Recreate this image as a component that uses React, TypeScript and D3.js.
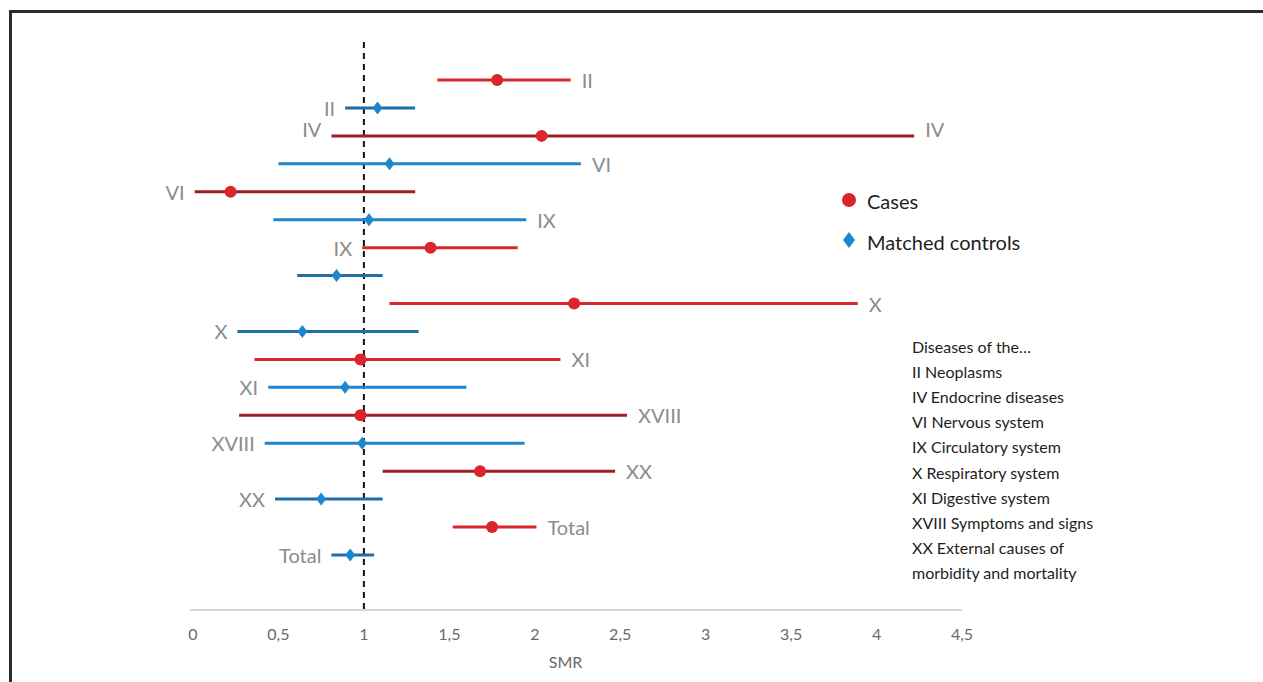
import React, { useEffect, useRef } from "react";
import * as d3 from "d3";

const width = 1263;
const height = 682;

// rows from top to bottom, cases and matched controls interleaved
const rowGroup = ["Cases", "Controls", "Cases", "Controls", "Cases", "Controls", "Cases", "Controls", "Cases",
  "Controls", "Cases", "Controls", "Cases", "Controls", "Cases", "Controls", "Cases", "Controls"];
const rowLabel = ["II", "II", "IV", "VI", "VI", "IX", "IX", "", "X", "X", "XI", "XI", "XVIII", "XVIII", "XX", "XX", "Total", "Total"];
const smrPoint = [1.78, 1.08, 2.04, 1.15, 0.22, 1.03, 1.39, 0.84, 2.23, 0.64, 0.98, 0.89, 0.98, 0.99, 1.68, 0.75, 1.75, 0.92];
const smrLow = [1.43, 0.89, 0.81, 0.50, 0.01, 0.47, 0.99, 0.61, 1.15, 0.26, 0.36, 0.44, 0.27, 0.42, 1.11, 0.48, 1.52, 0.81];
const smrHigh = [2.21, 1.30, 4.22, 2.27, 1.30, 1.95, 1.90, 1.11, 3.89, 1.32, 2.15, 1.60, 2.54, 1.94, 2.47, 1.11, 2.01, 1.06];

const xTicks = [0, 0.5, 1, 1.5, 2, 2.5, 3, 3.5, 4, 4.5];

const legendItems = ["Cases", "Matched controls"];
const noteLines = [
  "Diseases of the\u2026",
  "II Neoplasms",
  "IV Endocrine diseases",
  "VI Nervous system",
  "IX Circulatory system",
  "X Respiratory system",
  "XI Digestive system",
  "XVIII Symptoms and signs",
  "XX External causes of",
  "morbidity and mortality",
];

// styling: which rows get the darker shade, and where the roman numeral sits
const darkRows = [1, 2, 4, 7, 9, 12, 14, 15, 17];
const labelBoth = [2];
const labelLeft = [1, 2, 4, 6, 9, 11, 13, 15, 17];

const colors = {
  Cases: "#d9252b",
  CasesDark: "#a11d22",
  Controls: "#1c87cc",
  ControlsDark: "#1f6ea5",
};

const font = "Lato, 'Open Sans', sans-serif";

function diamond(cx: number, cy: number, w: number, h: number) {
  return "M" + cx + "," + (cy - h) + "L" + (cx + w) + "," + cy + "L" + cx + "," + (cy + h) + "L" + (cx - w) + "," + cy + "Z";
}

export default function App() {
  const ref = useRef<SVGSVGElement>(null);

  useEffect(() => {
    const svg = d3.select(ref.current);
    svg.selectAll("*").remove();

    const x = d3.scaleLinear().domain([0, 4.5]).range([193, 962]);
    const y = d3.scalePoint<number>()
      .domain(d3.range(rowLabel.length))
      .range([80, 555]);

    // frame
    svg.append("path")
      .attr("d", "M10.5," + (height + 5) + "V11.5H" + (width + 5))
      .attr("fill", "none")
      .attr("stroke", "#2b2b2b")
      .attr("stroke-width", 3);

    // x axis
    const axisY = 610;
    svg.append("line")
      .attr("x1", x(0) - 3).attr("x2", x(4.5))
      .attr("y1", axisY).attr("y2", axisY)
      .attr("stroke", "#c8c8c8")
      .attr("stroke-width", 1.5);

    svg.selectAll(".tick")
      .data(xTicks)
      .enter().append("text")
      .attr("x", (d) => x(d))
      .attr("y", 640)
      .attr("text-anchor", "middle")
      .attr("font-family", font)
      .attr("font-size", 16)
      .attr("fill", "#6a6a6a")
      .text((d) => String(d).replace(".", ","));

    svg.append("text")
      .attr("x", x(2.18))
      .attr("y", 668)
      .attr("text-anchor", "middle")
      .attr("font-family", font)
      .attr("font-size", 16)
      .attr("fill", "#6a6a6a")
      .text("SMR");

    // reference line at SMR = 1
    svg.append("line")
      .attr("x1", x(1)).attr("x2", x(1))
      .attr("y1", 42).attr("y2", axisY)
      .attr("stroke", "#111")
      .attr("stroke-width", 2)
      .attr("stroke-dasharray", "6,5");

    const rows = d3.range(rowLabel.length);
    const colorOf = (i: number) => {
      const dark = darkRows.indexOf(i) >= 0;
      if (rowGroup[i] === "Cases") return dark ? colors.CasesDark : colors.Cases;
      return dark ? colors.ControlsDark : colors.Controls;
    };

    // intervals
    svg.selectAll(".ci")
      .data(rows)
      .enter().append("line")
      .attr("x1", (i) => x(smrLow[i]))
      .attr("x2", (i) => x(smrHigh[i]))
      .attr("y1", (i) => y(i)!)
      .attr("y2", (i) => y(i)!)
      .attr("stroke", (i) => colorOf(i))
      .attr("stroke-width", 3);

    // point estimates
    rows.forEach((i) => {
      if (rowGroup[i] === "Cases") {
        svg.append("circle")
          .attr("cx", x(smrPoint[i]))
          .attr("cy", y(i)!)
          .attr("r", 6)
          .attr("fill", colors.Cases);
      } else {
        svg.append("path")
          .attr("d", diamond(x(smrPoint[i]), y(i)!, 5, 6.5))
          .attr("fill", colors.Controls);
      }
    });

    // roman numeral labels
    const labelText = (sel: d3.Selection<SVGTextElement, number, any, any>) => sel
      .attr("font-family", font)
      .attr("font-size", 20)
      .attr("fill", "#8c8c8c")
      .attr("dominant-baseline", "central")
      .text((i) => rowLabel[i]);

    const rightRows = rows.filter((i) => rowLabel[i] && (labelLeft.indexOf(i) < 0 || labelBoth.indexOf(i) >= 0));
    const leftRows = rows.filter((i) => rowLabel[i] && labelLeft.indexOf(i) >= 0);

    svg.selectAll(".lab-r")
      .data(rightRows)
      .enter().append("text")
      .attr("x", (i) => x(smrHigh[i]) + 11)
      .attr("y", (i) => y(i)! - (labelBoth.indexOf(i) >= 0 ? 7 : 0))
      .call(labelText);

    svg.selectAll(".lab-l")
      .data(leftRows)
      .enter().append("text")
      .attr("x", (i) => x(smrLow[i]) - 10)
      .attr("y", (i) => y(i)! - (labelBoth.indexOf(i) >= 0 ? 7 : 0))
      .attr("text-anchor", "end")
      .call(labelText);

    // legend
    const legend = svg.append("g").attr("transform", "translate(849,200)");
    legend.append("circle").attr("cx", 0).attr("cy", 0).attr("r", 7).attr("fill", colors.Cases);
    legend.append("path").attr("d", diamond(0, 40, 6, 8)).attr("fill", colors.Controls);
    legend.selectAll("text")
      .data(legendItems)
      .enter().append("text")
      .attr("x", 18)
      .attr("y", (d, i) => i * 41 + 1)
      .attr("dominant-baseline", "central")
      .attr("font-family", font)
      .attr("font-size", 20)
      .attr("fill", "#1e1e1e")
      .text((d) => d);

    // chapter key
    svg.selectAll(".note")
      .data(noteLines)
      .enter().append("text")
      .attr("x", 912)
      .attr("y", (d, i) => 346 + i * 25.2)
      .attr("dominant-baseline", "central")
      .attr("font-family", font)
      .attr("font-size", 16)
      .attr("fill", "#1e1e1e")
      .text((d) => d);
  }, []);

  return (
    <svg
      ref={ref}
      width={width}
      height={height}
      style={{ position: "absolute", left: 0, top: 0, background: "#fff" }}
    ></svg>
  );
}
